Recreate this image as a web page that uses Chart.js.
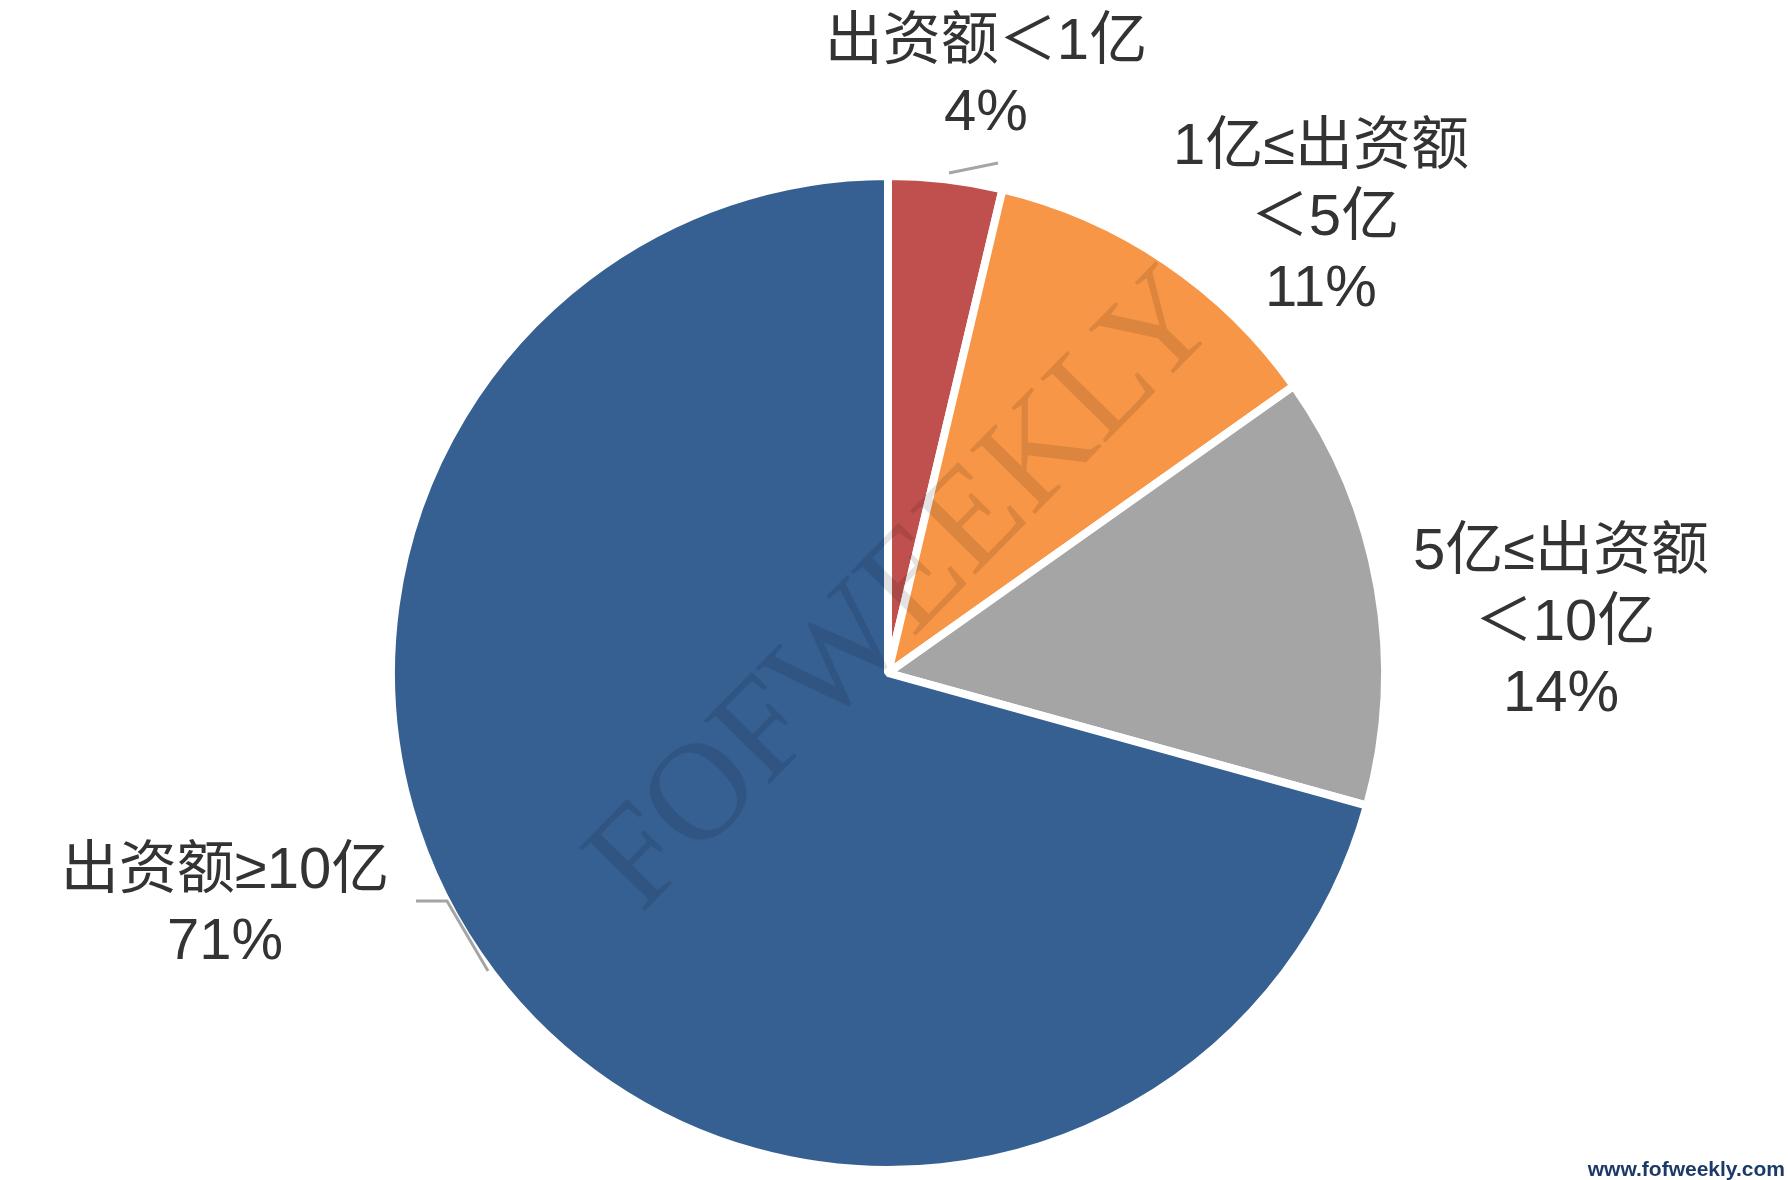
<!DOCTYPE html>
<html>
<head>
<meta charset="utf-8">
<script src="https://cdn.jsdelivr.net/npm/chart.js@4/dist/chart.umd.min.js"></script>
<style>
  html, body { margin: 0; padding: 0; background: #fff; }
  #wrap { width: 1788px; height: 1180px; position: relative; }
</style>
</head>
<body>
<div id="wrap"><canvas id="pieChart" width="1788" height="1180"></canvas></div>
<script>
// Chart data
const categories = ['出资额＜1亿', '1亿≤出资额＜5亿', '5亿≤出资额＜10亿', '出资额≥10亿'];
const shares = [3.7, 11.5, 14.1, 70.7];          // slice sizes as drawn
const shareLabels = ['4%', '11%', '14%', '71%'];  // printed percentages
const sliceColors = ['#C0504D', '#F79646', '#A5A5A5', '#366092'];

// label lines, per slice
const labelLines = [
    ['出资额＜1亿'],
    ['1亿≤出资额', '＜5亿'],
    ['5亿≤出资额', '＜10亿'],
    ['出资额≥10亿']
];

const FONT = '"Liberation Sans", "Noto Sans CJK SC", sans-serif';

// Labels + leader lines, placed relative to the pie centre
const labelPlugin = {
    id: 'pieLabels',
    afterDatasetsDraw(chart) {
        const ctx = chart.ctx;
        const arc = chart.getDatasetMeta(0).data[0];
        const cx = arc.x, cy = arc.y;
        // offsets of each label block (centre x, first line y) from pie centre
        const spots = [
            { dx: 98, dy: -630 },
            { dx: 433, dy: -525 },
            { dx: 673, dy: -120 },
            { dx: -663, dy: 199 }
        ];
        const lineH = 71;

        ctx.save();
        ctx.font = '58px ' + FONT;
        ctx.fillStyle = '#333333';
        ctx.textAlign = 'center';
        ctx.textBaseline = 'middle';
        labelLines.forEach((lines, i) => {
            const all = lines.concat([shareLabels[i]]);
            all.forEach((t, j) => {
                let x = cx + spots[i].dx;
                if (all.length === 3 && j === 1) x += 4;
                ctx.fillText(t, x, cy + spots[i].dy + j * lineH);
            });
        });

        // leader lines
        ctx.strokeStyle = '#A5A5A5';
        ctx.lineWidth = 3;
        ctx.beginPath();
        ctx.moveTo(cx + 61, cy - 500);
        ctx.lineTo(cx + 110, cy - 510);
        ctx.stroke();
        ctx.beginPath();
        ctx.moveTo(cx - 472, cy + 228);
        ctx.lineTo(cx - 441, cy + 228);
        ctx.lineTo(cx - 400, cy + 298);
        ctx.stroke();

        // watermark
        ctx.translate(906, 593);
        ctx.rotate(-45.5 * Math.PI / 180);
        ctx.font = '100px "Liberation Serif", serif';
        const w = ctx.measureText('FOFWEEKLY').width;
        const size = 100 * 830 / w;
        ctx.font = size + 'px "Liberation Serif", serif';
        ctx.fillStyle = 'rgba(0, 0, 0, 0.11)';
        ctx.textAlign = 'center';
        ctx.textBaseline = 'middle';
        ctx.fillText('FOFWEEKLY', 0, 0);
        ctx.restore();

        // site footer
        ctx.save();
        ctx.font = 'bold 21px "Liberation Sans", Arial, sans-serif';
        ctx.fillStyle = '#1B3A68';
        ctx.textAlign = 'right';
        ctx.textBaseline = 'alphabetic';
        ctx.fillText('www.fofweekly.com', 1785, 1176);
        ctx.restore();
    }
};

// Draw the pie
function displayChart() {
    const ctx = document.getElementById('pieChart').getContext('2d');
    new Chart(ctx, {
        type: 'pie',
        data: {
            labels: categories,
            datasets: [{
                data: shares,
                backgroundColor: sliceColors,
                borderColor: '#FFFFFF',
                borderWidth: 8
            }]
        },
        options: {
            responsive: false,
            animation: false,
            layout: { padding: { left: 387, right: 399, top: 172, bottom: 6 } },
            plugins: {
                legend: { display: false },
                tooltip: { enabled: false }
            }
        },
        plugins: [labelPlugin]
    });
}

window.onload = () => {
    displayChart();
};
</script>
</body>
</html>
